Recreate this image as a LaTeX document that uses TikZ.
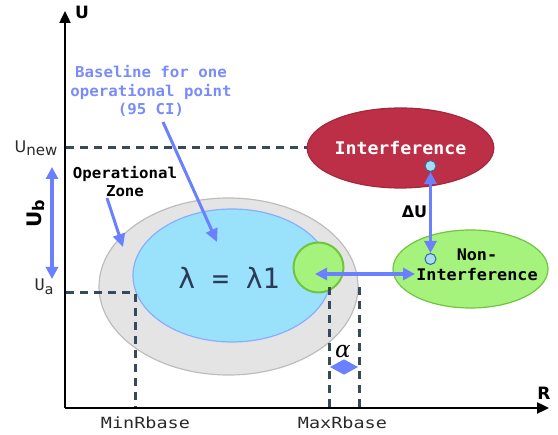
\documentclass[tikz,border=0pt]{standalone}
\usepackage{fontspec}
\setmainfont{DejaVu Sans}
\newfontfamily\monof[FakeStretch=1.05]{DejaVu Sans Mono}
\newfontfamily\monow[FakeStretch=1.2]{DejaVu Sans Mono}
\newfontfamily\monoplain{DejaVu Sans Mono}
\newfontfamily\serifit{DejaVu Serif}
\usetikzlibrary{arrows.meta,shapes.geometric}
\definecolor{arrowblue}{HTML}{6B80FF}
\definecolor{textblue}{HTML}{7A8CFA}
\definecolor{dashc}{HTML}{37495C}
\definecolor{grayfill}{HTML}{E4E4E4}
\definecolor{grayline}{HTML}{BDBDBD}
\definecolor{bluefill}{HTML}{9AE1FC}
\definecolor{blueline}{HTML}{8AAEFF}
\definecolor{greenfill}{HTML}{A5F27D}
\definecolor{greenline}{HTML}{70C53C}
\definecolor{redfill}{HTML}{BD2F46}
\definecolor{redline}{HTML}{A3283C}
\definecolor{dotfill}{HTML}{A8DCF0}
\definecolor{dotline}{HTML}{2F6D9E}
\definecolor{lamc}{HTML}{2C3A57}
\definecolor{labc}{HTML}{2A2A2A}
\tikzset{
  axisline/.style={line width=2.4pt, -{Triangle[length=12pt,width=11pt]}},
  barrow/.style={draw=arrowblue, line width=3pt, -{Triangle[length=13pt,width=12pt]}},
  dbarrow/.style={draw=arrowblue, line width=3.2pt, {Triangle[length=12pt,width=12pt]}-{Triangle[length=12pt,width=12pt]}},
  dashln/.style={draw=dashc, line width=3pt, dash pattern=on 8pt off 6pt},
  zone/.style={ellipse, inner sep=0pt},
  dot/.style={circle, fill=dotfill, draw=dotline, line width=1pt, minimum size=11pt, inner sep=0pt},
  boldlab/.style={font=\bfseries\fontsize{17}{17}\selectfont, inner sep=0pt},
  monotxt/.style={font=\monof\bfseries\fontsize{15}{18.5}\selectfont, align=center, inner sep=0pt},
  ticklab/.style={font=\monow\fontsize{15.4}{15.4}\selectfont, text=labc, inner sep=0pt}
}
\begin{document}
\begin{tikzpicture}[x=1pt,y=-1pt]
\useasboundingbox (0,0) rectangle (558,435);
% axes
\coordinate (O) at (65,408);
\coordinate (Ytop) at (65,11);
\coordinate (Xend) at (549,408);
\draw[axisline] (O) -- (Ytop);
\draw[axisline] (O) -- (Xend);
\node[boldlab] (Ulab) at (82,12) {U};
\node[boldlab] (Rlab) at (544,393) {R};

% zones
\node[zone, fill=grayfill, draw=grayline, line width=1.2pt, minimum width=259pt, minimum height=177pt] (opzone) at (228.5,286.5) {};
\node[zone, fill=bluefill, draw=blueline, line width=1.2pt, minimum width=198pt, minimum height=133pt] (base) at (232,275.5) {};
\node[font=\monoplain\fontsize{28}{30}\selectfont, text=lamc, inner sep=0pt] (lam) at (229,278) {λ = λ1};
\node[circle, fill=greenfill, draw=greenline, line width=2pt, minimum size=50pt, inner sep=0pt] (gc) at (318.5,267.5) {};

% state ellipses
\node[zone, fill=redfill, draw=redline, line width=1.2pt, minimum width=145pt, minimum height=80pt, text=white, font=\monof\bfseries\fontsize{17.4}{17.4}\selectfont] (interf) at (400.5,148) {Interference};
\node[zone, fill=greenfill, draw=greenline, line width=1.2pt, minimum width=155pt, minimum height=78pt] (nonint) at (470.5,269) {};
\node[font=\monof\bfseries\fontsize{16}{20}\selectfont, align=center, inner sep=0pt] (nontext) at (477,265) {Non-\\Interference};

% dashed guides
\coordinate (unew0) at (66,148);
\draw[dashln] (unew0) -- (interf.west);
\coordinate (ua0) at (66,293);
\coordinate (ua1) at (135,293);
\coordinate (minr) at (135,407);
\draw[dashln] (ua0) -- (ua1) -- (minr);
\coordinate (mx1a) at (329,287);
\coordinate (mx1b) at (329,407);
\coordinate (mx2a) at (359,287);
\coordinate (mx2b) at (359,407);
\draw[dashln] (mx1a) -- (mx1b);
\draw[dashln] (mx2a) -- (mx2b);

% dots and Delta U
\node[dot] (d1) at (430.5,166) {};
\node[dot] (d2) at (430.5,259) {};
\draw[dbarrow] (d1) -- (d2);
\node[font=\bfseries\fontsize{16}{16}\selectfont, inner sep=0pt] (dU) at (414.5,212) {ΔU};

% horizontal arrow
\coordinate (hl) at (315,274);
\coordinate (hr) at (415,274);
\draw[dbarrow] (hl) -- (hr);

% alpha
\coordinate (a1) at (330,367);
\coordinate (a2) at (358,367);
\draw[draw=arrowblue, line width=1pt, {Triangle[length=14pt,width=15pt]}-{Triangle[length=14pt,width=15pt]}] (a1) -- (a2);
\node[font=\serifit\itshape\fontsize{23}{23}\selectfont, inner sep=0pt] (alab) at (343,352) {α};

% Ub arrow
\coordinate (ub1) at (52,167);
\coordinate (ub2) at (52,279);
\draw[dbarrow] (ub1) -- (ub2);
\node[rotate=90, font=\bfseries, inner sep=0pt] (Ublab) at (36,214) {{\fontsize{20}{20}\selectfont U}{\fontsize{16}{16}\selectfont\raisebox{-3pt}{b}}};

% axis value labels
\node[text=labc, inner sep=0pt] (Unew) at (36,148) {{\fontsize{16}{16}\selectfont U}{\fontsize{15}{15}\selectfont\raisebox{-3pt}{new}}};
\node[text=labc, inner sep=0pt, font=\monof] (Ua) at (44,287) {{\fontsize{16}{16}\selectfont U}{\fontsize{14}{14}\selectfont\raisebox{-4pt}{a}}};
\node[ticklab] (minlab) at (145.5,423) {MinRbase};
\node[ticklab] (maxlab) at (342.5,423) {MaxRbase};

% annotations
\node[monotxt, text=textblue] (basetxt) at (151,91) {Baseline for one\\operational point\\(95 CI)};
\node[monotxt] (optxt) at (125,181.5) {Operational\\Zone};
\coordinate (p1s) at (163,122);
\coordinate (p1e) at (217,242);
\draw[barrow] (p1s) -- (p1e);
\coordinate (p2s) at (107,198);
\coordinate (p2e) at (123,247);
\draw[barrow] (p2s) -- (p2e);
\end{tikzpicture}
\end{document}
